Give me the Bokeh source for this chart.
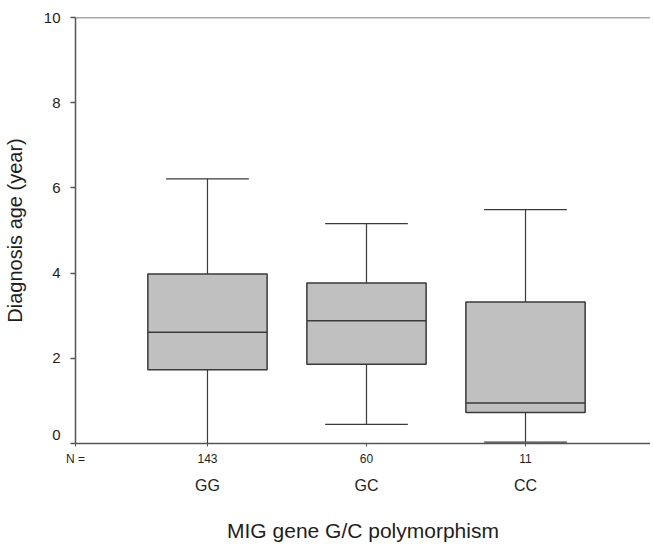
from bokeh.plotting import figure
from bokeh.models import Range1d, LinearAxis, FixedTicker, Span
from bokeh.embed import file_html
from bokeh.resources import INLINE

# data
groups = ["GG", "GC", "CC"]
counts = ["143", "60", "11"]
q1 = [1.73, 1.86, 0.73]
median = [2.61, 2.88, 0.95]
q3 = [3.98, 3.77, 3.32]
upper = [6.21, 5.16, 5.49]
lower = [0.0, 0.45, 0.03]
y_ticks = [0, 2, 4, 6, 8, 10]
y_labels = ["0", "2", "4", "6", "8", "10"]

xs = [1, 2, 3]
box_w = 0.75
cap_w = 0.52

FONT = "Liberation Sans"
LINE = "#3a3a3a"
AX = "#555555"
TXT = "#1e1e1e"

X0 = 0.17
X1 = 3.786
ZERO_RAISE = 0.19  # SPSS draws the "0" label slightly above its tick

p = figure(width=650, height=544, output_backend="svg", toolbar_location=None,
           x_range=Range1d(X0, X1), y_range=Range1d(0, 10),
           min_border_left=75, min_border_right=0, min_border_top=17, min_border_bottom=101,
           x_axis_location=None, y_axis_location=None)
p.outline_line_color = None
p.xgrid.visible = False
p.ygrid.visible = False

# y axis on a shifted range so the "0" label sits a bit above the bottom
p.extra_y_ranges = {"yshift": Range1d(-ZERO_RAISE, 10 - ZERO_RAISE)}
label_pos = [0.0] + [t - ZERO_RAISE for t in y_ticks[1:]]
tick_pos = [t - ZERO_RAISE for t in y_ticks]
yax = LinearAxis(y_range_name="yshift",
                 ticker=FixedTicker(ticks=label_pos, minor_ticks=tick_pos),
                 axis_label="Diagnosis age (year)")
yax.major_label_overrides = {pos: lab for pos, lab in zip(label_pos, y_labels)}
yax.major_tick_out = 0
yax.major_tick_in = 0
yax.minor_tick_out = 5
yax.minor_tick_in = 0
yax.minor_tick_line_color = AX
yax.minor_tick_line_width = 1.5
yax.major_label_standoff = 10
yax.axis_line_color = AX
yax.axis_line_width = 1.5
yax.major_label_text_font = FONT
yax.major_label_text_font_size = "15px"
yax.major_label_text_color = TXT
yax.axis_label_text_font = FONT
yax.axis_label_text_font_size = "20px"
yax.axis_label_text_font_style = "normal"
yax.axis_label_text_color = TXT
yax.axis_label_standoff = 15
p.add_layout(yax, "left")

# x axis with counts (and the "N =" caption at the frame's left edge)
xax = LinearAxis(ticker=FixedTicker(ticks=[X0] + xs))
overrides = {x: c for x, c in zip(xs, counts)}
overrides[X0] = "N ="
xax.major_label_overrides = overrides
xax.major_tick_out = 3
xax.major_tick_in = 0
xax.minor_tick_out = 0
xax.minor_tick_in = 0
xax.major_label_standoff = 5
xax.axis_line_color = AX
xax.axis_line_width = 1.5
xax.major_tick_line_color = AX
xax.major_tick_line_width = 1
xax.major_label_text_font = FONT
xax.major_label_text_font_size = "12px"
xax.major_label_text_color = TXT
p.add_layout(xax, "below")

# x axis with group names
gax = LinearAxis(ticker=FixedTicker(ticks=xs), axis_label="MIG gene G/C polymorphism")
gax.major_label_overrides = {x: g for x, g in zip(xs, groups)}
gax.axis_line_color = None
gax.major_tick_line_color = None
gax.minor_tick_line_color = None
gax.major_tick_out = 0
gax.major_tick_in = 0
gax.major_label_standoff = 8
gax.major_label_text_font = FONT
gax.major_label_text_font_size = "16px"
gax.major_label_text_color = TXT
gax.axis_label_text_font = FONT
gax.axis_label_text_font_size = "21px"
gax.axis_label_text_font_style = "normal"
gax.axis_label_text_color = TXT
gax.axis_label_standoff = 22
p.add_layout(gax, "below")

# top line
p.add_layout(Span(location=10, dimension="width", line_color=AX, line_width=1.5))

# whiskers
p.segment(x0=xs, y0=q3, x1=xs, y1=upper, line_color=LINE, line_width=1.2)
p.segment(x0=xs, y0=q1, x1=xs, y1=lower, line_color=LINE, line_width=1.2)
p.segment(x0=[x - cap_w / 2 for x in xs], y0=upper, x1=[x + cap_w / 2 for x in xs], y1=upper,
          line_color=LINE, line_width=1.2)
p.segment(x0=[x - cap_w / 2 for x in xs], y0=lower, x1=[x + cap_w / 2 for x in xs], y1=lower,
          line_color=LINE, line_width=1.2)

# boxes
p.vbar(x=xs, width=box_w, bottom=q1, top=q3, fill_color="#c0c0c0", line_color=LINE, line_width=1.5)
p.segment(x0=[x - box_w / 2 for x in xs], y0=median, x1=[x + box_w / 2 for x in xs], y1=median,
          line_color=LINE, line_width=1.5)

open("out.html", "w").write(file_html(p, INLINE))
